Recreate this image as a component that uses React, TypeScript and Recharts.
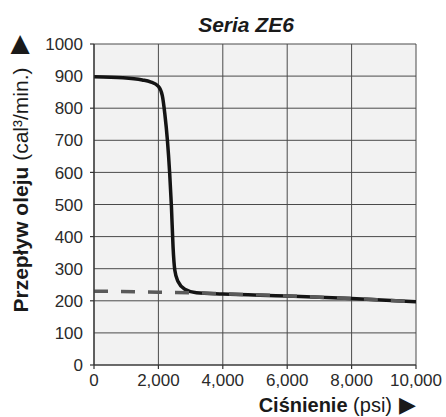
import React from 'react';
import { LineChart, Line, XAxis, YAxis, CartesianGrid } from 'recharts';

const solidCurve = [
  { x: 0, y: 898 },
  { x: 900, y: 895 },
  { x: 1500, y: 888 },
  { x: 1750, y: 882 },
  { x: 2000, y: 868 },
  { x: 2120, y: 840 },
  { x: 2200, y: 782 },
  { x: 2280, y: 700 },
  { x: 2350, y: 598 },
  { x: 2405, y: 493 },
  { x: 2455, y: 368 },
  { x: 2510, y: 295 },
  { x: 2610, y: 260 },
  { x: 2820, y: 236 },
  { x: 3180, y: 225 },
  { x: 4000, y: 221 },
  { x: 6000, y: 215 },
  { x: 8000, y: 207 },
  { x: 10000, y: 197 },
];

const dashedCurve = [
  { x: 0, y: 230 },
  { x: 2000, y: 227 },
  { x: 3000, y: 225 },
  { x: 4000, y: 222 },
  { x: 6000, y: 215 },
  { x: 8000, y: 207 },
  { x: 10000, y: 197 },
];

const xTicks = [0, 2000, 4000, 6000, 8000, 10000];
const yTicks = [0, 100, 200, 300, 400, 500, 600, 700, 800, 900, 1000];
const yMarked = [0, 200, 400, 600, 800, 1000];

const titleText = 'Seria ZE6';
const yLabelBold = 'Przepływ oleju';
const yLabelUnit = ' (cal³/min.)';
const xLabelBold = 'Ciśnienie';
const xLabelUnit = ' (psi)';

const FONT = '"Liberation Sans", Arial, Helvetica, sans-serif';
const SYMFONT = '"DejaVu Sans", sans-serif';

const YTick = (props: any) => {
  const { x, y, payload } = props;
  const v = payload.value;
  return (
    <g>
      {yMarked.includes(v) && (
        <line x1={x + 7} x2={x + 11} y1={y} y2={y} stroke="#333" strokeWidth={1.2} />
      )}
      <text x={x} y={y} dy="0.36em" textAnchor="end" fontSize={17} fill="#2a2a2a" fontFamily={FONT}>
        {v}
      </text>
    </g>
  );
};

const XTick = (props: any) => {
  const { x, y, payload } = props;
  return (
    <text x={x} y={y} dy="0.71em" textAnchor="middle" fontSize={17} fill="#2a2a2a" fontFamily={FONT}>
      {Number(payload.value).toLocaleString('en-US')}
    </text>
  );
};

export default function App() {
  return (
    <div style={{ position: 'absolute', left: 0, top: 0, width: 446, height: 417, background: '#fff' }}>
      <LineChart width={446} height={417} margin={{ top: 44, right: 30, bottom: 0, left: 0 }}>
        <CartesianGrid fill="#f2f2f2" stroke="#4a4a4a" strokeWidth={1} />
        <XAxis
          dataKey="x"
          type="number"
          domain={[0, 10000]}
          ticks={xTicks}
          height={52}
          tickSize={4}
          tickMargin={5}
          tick={<XTick />}
          axisLine={{ stroke: '#333', strokeWidth: 1.2 }}
          tickLine={{ stroke: '#333', strokeWidth: 1.2 }}
          allowDataOverflow
          interval={0}
        />
        <YAxis
          type="number"
          domain={[0, 1000]}
          ticks={yTicks}
          width={94}
          tickSize={4}
          tickMargin={7}
          tick={<YTick />}
          tickLine={false}
          axisLine={{ stroke: '#333', strokeWidth: 1.2 }}
          allowDataOverflow
          interval={0}
        />
        <Line
          data={solidCurve}
          dataKey="y"
          type="monotone"
          stroke="#141414"
          strokeWidth={3.5}
          dot={false}
          isAnimationActive={false}
        />
        <Line
          data={dashedCurve}
          dataKey="y"
          type="monotone"
          stroke="#5a5a5a"
          strokeWidth={3.5}
          strokeDasharray="14 13"
          dot={false}
          isAnimationActive={false}
        />
        <text x={246} y={32} textAnchor="middle" fontSize={21} fontWeight="bold" fontStyle="italic" fill="#1a1a1a" fontFamily={FONT}>
          {titleText}
        </text>
        <text x={20} y={51} textAnchor="middle" fontSize={25} fill="#1a1a1a" fontFamily={SYMFONT}>
          ▲
        </text>
        <text
          x={28}
          y={190}
          textAnchor="middle"
          fontSize={21}
          fill="#1a1a1a"
          fontFamily={FONT}
          transform="rotate(-90 28 190)"
        >
          <tspan fontWeight="bold">{yLabelBold}</tspan>
          <tspan>{yLabelUnit}</tspan>
        </text>
        <text x={392} y={412} textAnchor="end" fontSize={20} fill="#1a1a1a" fontFamily={FONT}>
          <tspan fontWeight="bold">{xLabelBold}</tspan>
          <tspan>{xLabelUnit}</tspan>
        </text>
        <text x={416} y={412} textAnchor="end" fontSize={22} fill="#1a1a1a" fontFamily={SYMFONT}>
          ▶
        </text>
      </LineChart>
    </div>
  );
}
